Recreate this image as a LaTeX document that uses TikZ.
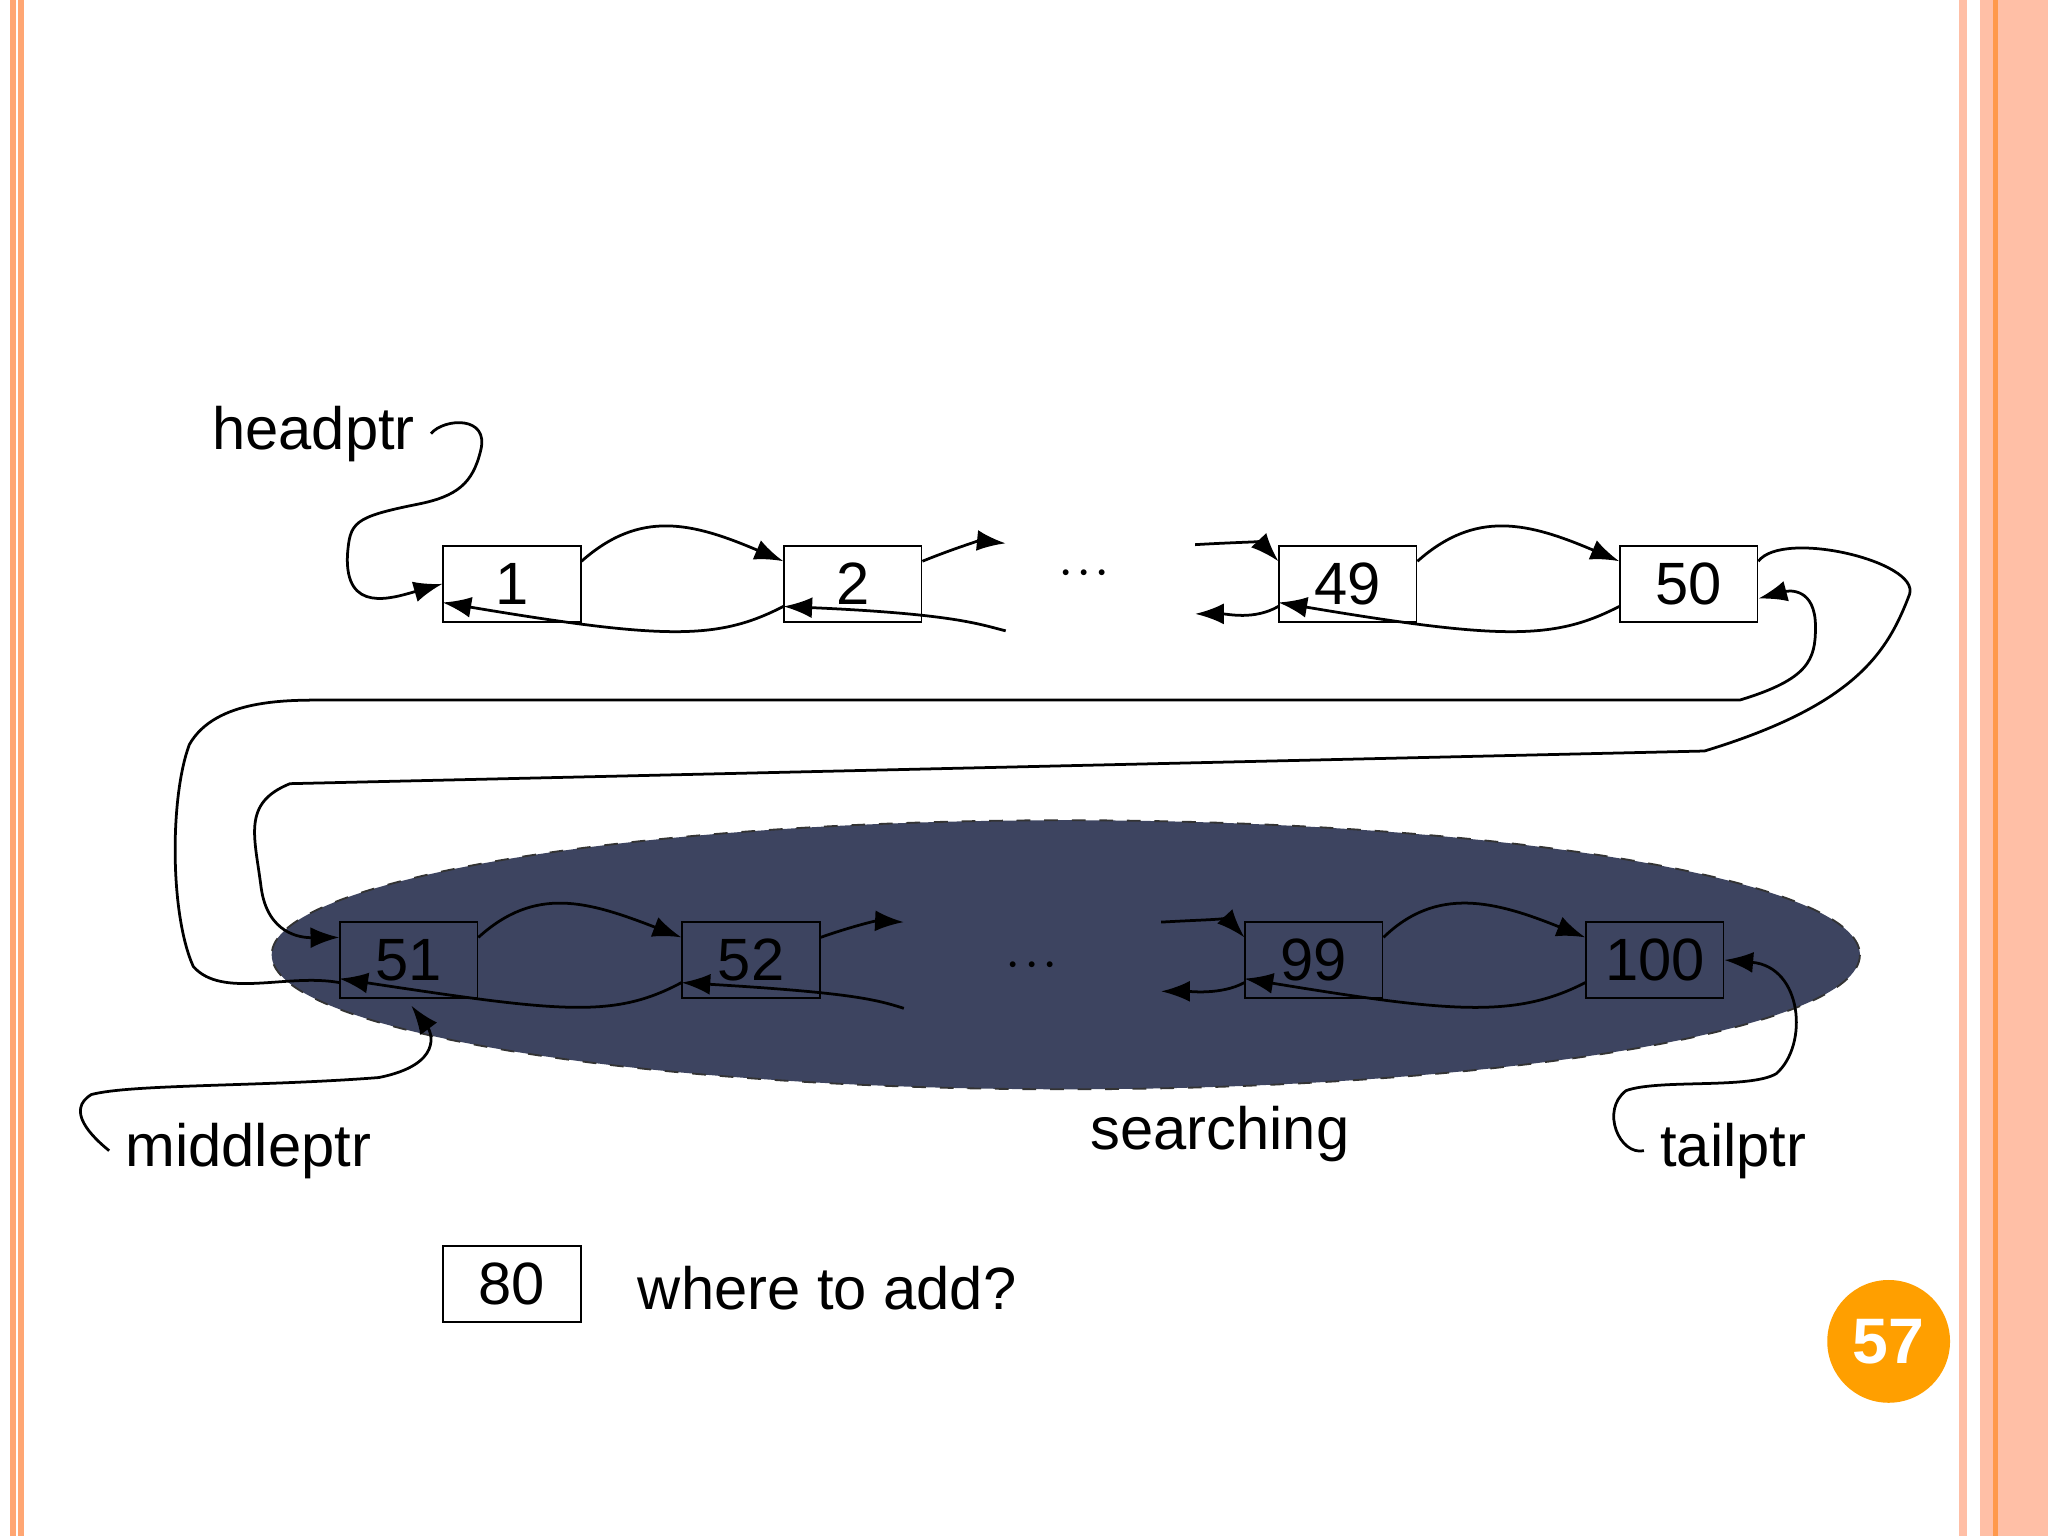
\documentclass[tikz,border=0pt]{standalone}
\usepackage{fontspec}
\setmainfont{Liberation Sans}
\usetikzlibrary{arrows.meta,calc}
\begin{document}
\begin{tikzpicture}[x=0.01cm,y=-0.01cm,
  box/.style={draw,minimum width=1.05cm,minimum height=0.58cm,inner sep=0pt,font=\fontsize{13}{15}\selectfont},
  lnk/.style={-{Latex[length=2.2mm,width=1.6mm]},line width=0.6pt},
  lbl/.style={font=\fontsize{13}{15}\selectfont}]
\useasboundingbox (0,0) rectangle (1568,1176);
\fill[white] (0,0) rectangle (1568,1176);
% borders
\draw[color=orange!40!pink,line width=1.2pt] (10,0)--(10,1176) (16,0)--(16,1176);
\fill[orange!25!pink!80] (1500,0) rectangle (1506,1176);
\fill[orange!25!pink!80] (1516,0) rectangle (1568,1176);
\draw[orange!60!pink,line width=1pt] (1528,0)--(1528,1176);
% ellipse
\filldraw[dashed,fill={rgb,255:red,61;green,68;blue,96},draw=black!80] (816,731) ellipse [x radius=608,y radius=103];
% boxes
\node[box] (n1) at (392,447) {1};
\node[box] (n2) at (653,447) {2};
\node[box] (n49) at (1032,447) {49};
\node[box] (n50) at (1293,447) {50};
\node[box] (n51) at (313,735) {51};
\node[box] (n52) at (575,735) {52};
\node[box] (n99) at (1006,735) {99};
\node[box] (n100) at (1267,735) {100};
\node[box] (n80) at (392,983) {80};
\node[lbl] (d1) at (830,440) {$\cdot\!\cdot\!\cdot$};
\node[lbl] (d2) at (790,740) {$\cdot\!\cdot\!\cdot$};
\coordinate (o2) at (770,416); \coordinate (i2) at (770,483);
\coordinate (i49) at (915,417); \coordinate (o49) at (915,470);
\coordinate (o52) at (692,706); \coordinate (i52) at (692,772);
\coordinate (i99) at (889,706); \coordinate (o99) at (889,759);
% top row links
\draw[lnk] (n1.18) .. controls (490,390) and (530,400) .. (n2.162);
\draw[lnk] (n2.198) .. controls (550,490) and (510,490) .. (n1.195);
\draw[lnk] (n2.18) .. controls (730,420) and (750,414) .. (o2);
\draw[lnk] (i2) .. controls (750,478) and (730,470) .. (n2.198);
\draw[lnk] (i49) .. controls (950,415) and (965,415) .. (n49.162);
\draw[lnk] (n49.198) .. controls (960,475) and (940,470) .. (o49);
\draw[lnk] (n49.18) .. controls (1130,390) and (1170,400) .. (n50.162);
\draw[lnk] (n50.198) .. controls (1190,490) and (1150,490) .. (n49.195);
% bottom row links
\draw[lnk] (n51.18) .. controls (410,678) and (450,690) .. (n52.162);
\draw[lnk] (n52.198) .. controls (470,780) and (430,775) .. (n51.195);
\draw[lnk] (n52.18) .. controls (650,710) and (670,705) .. (o52);
\draw[lnk] (i52) .. controls (670,765) and (650,760) .. (n52.198);
\draw[lnk] (i99) .. controls (925,704) and (940,704) .. (n99.162);
\draw[lnk] (n99.198) .. controls (935,762) and (910,759) .. (o99);
\draw[lnk] (n99.18) .. controls (1100,678) and (1145,690) .. (n100.162);
\draw[lnk] (n100.198) .. controls (1160,780) and (1110,775) .. (n99.195);
% long links
\draw[lnk] (n50.18) .. controls (1365,405) and (1470,430) .. (1462,455)
  .. controls (1445,500) and (1420,540) .. (1305,575) -- (222,600)
  .. controls (185,615) and (195,640) .. (200,680) .. controls (205,715) and (230,718) .. (n51.162);
\draw[lnk] (n51.198) .. controls (220,745) and (170,765) .. (148,740)
  .. controls (130,700) and (130,610) .. (145,570) .. controls (165,535) and (220,536) .. (250,536)
  -- (1332,536) .. controls (1385,520) and (1390,505) .. (1390,480)
  .. controls (1390,450) and (1370,452) .. (n50.-12);
% labels
\node[lbl] (hp) at (240,332) {headptr};
\node[lbl] (mp) at (190,881) {middleptr};
\node[lbl] (tp) at (1327,881) {tailptr};
\node[lbl] (sr) at (934,868) {searching};
\node[lbl,anchor=west] (wa) at (476,986) {where to add?};
\draw[lnk] (hp.east) .. controls (340,320) and (375,318) .. (368,345)
  .. controls (362,370) and (350,380) .. (320,386) .. controls (270,396) and (268,400) .. (266,425)
  .. controls (264,470) and (300,458) .. (n1.west);
\draw[lnk] (mp.west) .. controls (70,870) and (50,850) .. (70,838)
  .. controls (100,830) and (200,832) .. (290,825) .. controls (340,815) and (330,790) .. (315,770);
\draw[lnk] (tp.west) .. controls (1240,885) and (1225,850) .. (1245,835)
  .. controls (1270,826) and (1340,834) .. (1360,822) .. controls (1385,800) and (1380,740) .. (n100.east);
% page number
\fill[orange!75!red!60!yellow] (1446,1027) circle (47);
\node[text=white,font=\bfseries\fontsize{14}{16}\selectfont] (pg) at (1446,1027) {57};
\end{tikzpicture}
\end{document}
